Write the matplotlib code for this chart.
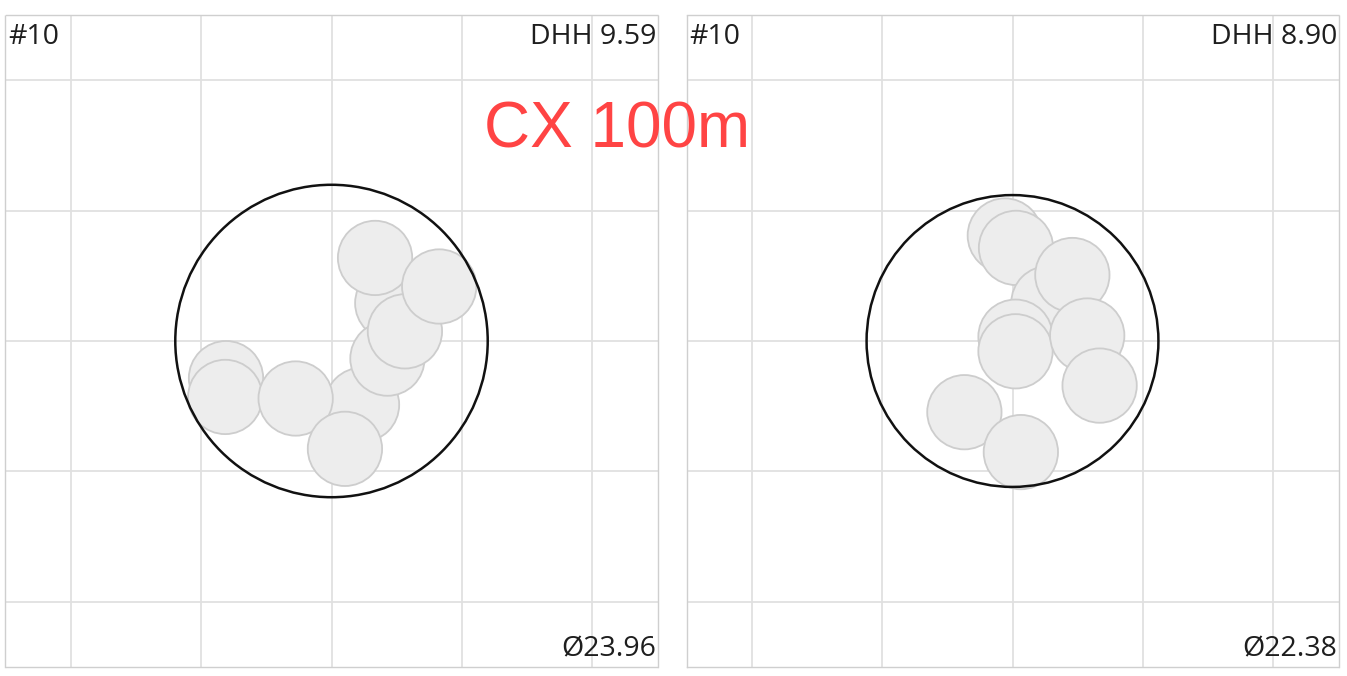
import matplotlib.pyplot as plt
from matplotlib.patches import Circle

# shot positions (mm), drawn back to front
left_x = [-8.09, 4.66, 2.34, 4.29, 5.63, 3.34, 8.26, -8.15, -2.75, 1.03]
left_y = [-2.85, 2.90, -4.89, -1.35, 0.74, 6.37, 4.18, -4.29, -4.41, -8.27]
right_x = [-0.59, 0.27, 2.75, 4.59, 0.23, 0.23, 5.73, 6.68, -3.69, 0.64]
right_y = [8.09, 7.14, 2.90, 5.06, 0.33, -0.79, 0.42, -3.42, -5.46, -8.52]

shot_diam = 5.7
group_diam = [23.96, 22.38]
dhh = [9.59, 8.90]
n_shots = [10, 10]
grid_ticks = [-20, -10, 0, 10, 20]
lim = 25

fig = plt.figure(figsize=(13.47, 6.76), dpi=100)
axes = [fig.add_axes([5 / 1347, 9 / 676, 653 / 1347, 652 / 676]),
        fig.add_axes([686 / 1347, 9 / 676, 653 / 1347, 652 / 676])]

for ax, xs, ys, gd, d, n in zip(axes, [left_x, right_x], [left_y, right_y],
                                group_diam, dhh, n_shots):
    ax.set_xlim(-lim, lim)
    ax.set_ylim(-lim, lim)
    ax.set_aspect('equal', adjustable='box')
    ax.set_xticks(grid_ticks)
    ax.set_yticks(grid_ticks)
    ax.tick_params(length=0, labelbottom=False, labelleft=False)
    ax.grid(True, color='#e0e0e0', linewidth=1.3)
    ax.set_axisbelow(True)
    for s in ax.spines.values():
        s.set_color('#cfcfcf')
        s.set_linewidth(1)
        s.set_linestyle((0, (1, 1)))

    for i, (x, y) in enumerate(zip(xs, ys)):
        ax.add_patch(Circle((x, y), shot_diam / 2, facecolor='#ededed',
                            edgecolor='#cdcdcd', linewidth=1.3, zorder=3 + i))
    ax.add_patch(Circle((0, 0), gd / 2, facecolor='none', edgecolor='#111111',
                        linewidth=1.8, zorder=20))

    ax.text(0.004, 0.988, '#%d' % n, transform=ax.transAxes, ha='left', va='top',
            fontsize=20.5, family='Open Sans', color='#1e1e1e')
    ax.text(0.998, 0.988, 'DHH %.2f' % d, transform=ax.transAxes, ha='right',
            va='top', fontsize=20.5, family='Open Sans', color='#1e1e1e')
    ax.text(0.998, 0.006, '\u00d8%.2f' % gd, transform=ax.transAxes, ha='right',
            va='bottom', fontsize=20.5, family='Open Sans', color='#1e1e1e')

fig.text(617 / 1347, 1 - 130 / 676, 'CX 100m', ha='center', va='center',
         fontsize=46, family='Liberation Sans', color='#ff4444')

fig.savefig('out.png', dpi=100)
